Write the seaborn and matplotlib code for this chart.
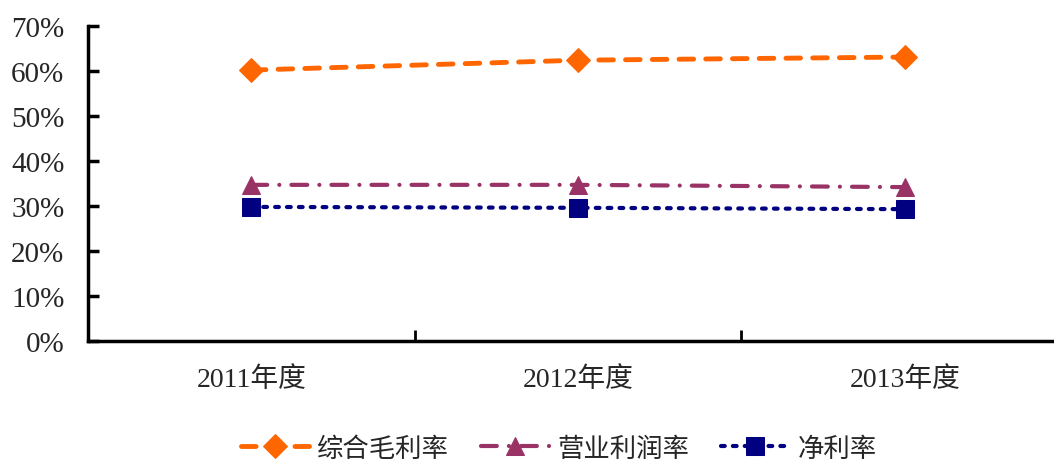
import seaborn as sns
import pandas as pd, numpy as np
import matplotlib.pyplot as plt
from matplotlib.ticker import FixedLocator, PercentFormatter

years = ['2011年度', '2012年度', '2013年度']
gross_margin = [60.2, 62.4, 63.1]
operating_margin = [34.7, 34.7, 34.2]
net_margin = [29.8, 29.6, 29.3]
series_names = ['综合毛利率', '营业利润率', '净利率']

sns.set_theme(style='ticks')
plt.rcParams['font.family'] = ['Liberation Serif', 'Noto Sans CJK SC']

df = pd.DataFrame({
    'year': years * 3,
    'value': gross_margin + operating_margin + net_margin,
    'series': np.repeat(series_names, len(years)),
})

fig = plt.figure(figsize=(10.54, 4.6), dpi=100)
ax = fig.add_axes([0.0835, 0.2565, 0.9145, 0.6848])

colors = ['#FF6600', '#993366', '#000080']
markers = ['D', '^', 's']
dashes = [(3, 2.5), (3.8, 2.9, 0.01, 2.9), (0.9, 1.95)]
msizes = [12, 13, 13]
widths = [3.5, 3, 3]

for name, c, m, d, ms, lw in zip(series_names, colors, markers, dashes, msizes, widths):
    sub = df[df['series'] == name]
    sns.lineplot(data=sub, x='year', y='value', ax=ax, color=c, marker=m,
                 markersize=ms, markeredgecolor=c, linewidth=lw,
                 dashes=False, label=name, sort=False)
    ax.lines[-1].set_dashes(d)
    ax.lines[-1].set_dash_capstyle('round')

ax.set_xlim(-0.5, 2.45)
ax.set_ylim(0, 70)
ax.yaxis.set_major_locator(FixedLocator(np.arange(0, 71, 10)))
ax.yaxis.set_major_formatter(PercentFormatter(decimals=0))
ax.yaxis.set_ticks_position('left')
ax.xaxis.set_minor_locator(FixedLocator([0.5, 1.5]))
ax.tick_params(axis='x', which='major', length=0, pad=18, labelsize=20)
ax.tick_params(axis='x', which='minor', bottom=True, direction='in',
               length=8, width=2, color='black')
ax.tick_params(axis='y', which='major', left=True, direction='in', length=8,
               width=2.5, color='black', labelsize=21, pad=17)
ax.set_xlabel('')
ax.set_ylabel('')

for s in ['top', 'right']:
    ax.spines[s].set_visible(False)
for s in ['left', 'bottom']:
    ax.spines[s].set_color('black')
    ax.spines[s].set_linewidth(2.5)

handles, labels = ax.get_legend_handles_labels()
ax.legend(handles, labels, loc='lower center', bbox_to_anchor=(0.53, -0.055),
          bbox_transform=fig.transFigure, ncol=3, frameon=False, fontsize=19,
          handlelength=2.6, columnspacing=1.2, handletextpad=0.3)

fig.savefig('out.png', dpi=100)
